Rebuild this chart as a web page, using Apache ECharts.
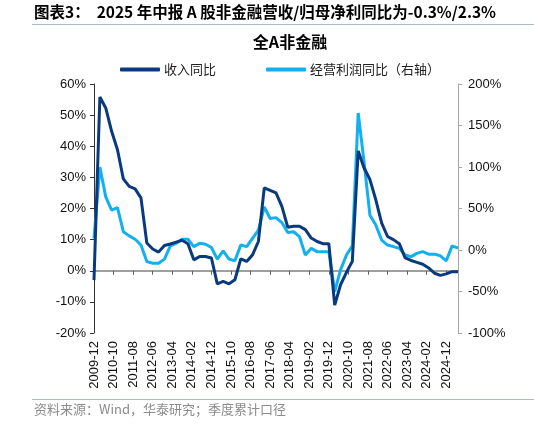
<!DOCTYPE html>
<html>
<head>
<meta charset="utf-8">
<script src="https://cdn.jsdelivr.net/npm/echarts@6/dist/echarts.min.js"></script>
<style>
	html, body { margin: 0; padding: 0; background: #fff; }
	#chart { width: 534px; height: 424px; }
</style>
</head>
<body>
<div id="chart"></div>
<script>
	// monthly axis 2009-12 .. 2025-06, data is quarterly (cumulative yoy, %)
	var months = [];
	for (var y = 2009, m = 12; y * 100 + m <= 202506;) {
		months.push(y + '-' + (m < 10 ? '0' + m : m));
		m++;
		if (m > 12) { m = 1; y++; }
	}
	var quarters = months.filter(function(d, i) { return i % 3 === 0; });

	var revenueYoy = [-3, 55.8, 52.3, 44.8, 38.9, 29.5, 27.1, 26.3, 23.4, 8.9, 7.0, 6.0, 8.1, 8.6, 9.2, 9.8, 8.7, 3.5, 4.6, 4.6, 4.1,
		-4.2, -3.4, -4.2, -2.9, 3.8, 3.0, 5.1, 9.4, 26.6, 25.8, 25.0, 20.7, 14.0, 14.3, 14.3, 13.2, 10.5, 9.4, 8.7, 8.7, -11,
		-4.5, -0.5, 3.0, 38.5, 33.0, 29.3, 22.8, 15.3, 11.0, 10.0, 8.7, 4.1, 3.3, 2.7, 2.1, 0.9, -0.8, -1.5, -1.0, -0.3, -0.3];
	var profitYoy = [14, 100, 64, 48, 51, 22, 17, 13, 6, -14, -16, -16, -11, 5, 8, 13, 13, 4, 8, 7, 3,
		-11, -1, -11, -13, 6, 4, 14, 24, 52, 38, 39, 33, 21, 22, 16, -6, 2, -2, -2, -2, -50,
		-24, -6, 5, 165, 106, 42, 30, 12, 6, 4, 2, -6, -8, -4, -2, -5, -5, -7, -13, 5, 2.3];

	var seriesNames = ['收入同比', '经营利润同比（右轴）'];
	var font = '"Noto Sans CJK SC", "Liberation Sans", sans-serif';
	var numFont = '"Liberation Sans", Arial, sans-serif';

	function pairs(vals) {
		return quarters.map(function(q, i) { return [q, vals[i]]; });
	}

	var myChart = echarts.init(document.getElementById('chart'));
	var option = {
		animation: false,
		grid: {
			left: 94,
			right: 76,
			top: 84,
			bottom: 91
		},
		legend: {
			data: seriesNames,
			left: 115,
			top: 58,
			icon: 'roundRect',
			itemWidth: 40,
			itemHeight: 4,
			itemGap: 50,
			textStyle: {
				fontFamily: font,
				fontSize: 13,
				color: '#222',
				padding: [0, 0, 0, -1]
			}
		},
		graphic: [{
			type: 'text',
			left: 34,
			top: 4,
			style: {
				text: '图表3：  2025 年中报 A 股非金融营收/归母净利同比为-0.3%/2.3%',
				font: 'bold 15.5px ' + font,
				fill: '#000'
			}
		}, {
			type: 'line',
			shape: { x1: 32, y1: 24.5, x2: 534, y2: 24.5 },
			style: { stroke: '#a9bbd0', lineWidth: 1 }
		}, {
			type: 'text',
			x: 290,
			y: 42,
			style: {
				text: '全A非金融',
				font: 'bold 16px ' + font,
				fill: '#000',
				align: 'center',
				verticalAlign: 'middle'
			}
		}, {
			type: 'line',
			shape: { x1: 32, y1: 399.5, x2: 534, y2: 399.5 },
			style: { stroke: '#a9bbd0', lineWidth: 1 }
		}, {
			type: 'text',
			left: 34,
			top: 403,
			style: {
				text: '资料来源：Wind，华泰研究；季度累计口径',
				font: '13px ' + font,
				fill: '#8c8c8c'
			}
		}],
		xAxis: [{
			type: 'category',
			data: months,
			boundaryGap: false,
			position: 'bottom',
			axisLine: { show: false, onZero: false },
			axisTick: { show: false },
			axisLabel: {
				interval: 9,
				rotate: 90,
				margin: 8,
				fontFamily: numFont,
				fontSize: 13,
				color: '#111'
			},
			splitLine: { show: false }
		}, {
			type: 'category',
			data: months,
			boundaryGap: false,
			position: 'bottom',
			axisLine: {
				onZero: true,
				onZeroAxisIndex: 0,
				lineStyle: { color: '#808080', width: 1.5 }
			},
			axisTick: {
				interval: 9,
				length: 4,
				lineStyle: { color: '#606060' }
			},
			axisLabel: { show: false },
			splitLine: { show: false }
		}],
		yAxis: [{
			type: 'value',
			min: -20,
			max: 60,
			interval: 10,
			axisLine: { show: true, lineStyle: { color: '#333' } },
			axisTick: { show: true, length: 4, lineStyle: { color: '#333' } },
			axisLabel: {
				formatter: '{value}%',
				margin: 8,
				fontFamily: numFont,
				fontSize: 13,
				color: '#111'
			},
			splitLine: { show: false }
		}, {
			type: 'value',
			min: -100,
			max: 200,
			interval: 50,
			axisLine: { show: true, lineStyle: { color: '#a6a6a6' } },
			axisTick: { show: true, length: 4, lineStyle: { color: '#a6a6a6' } },
			axisLabel: {
				formatter: '{value}%',
				margin: 10,
				fontFamily: numFont,
				fontSize: 13,
				color: '#111'
			},
			splitLine: { show: false }
		}],
		series: [{
			name: seriesNames[0],
			type: 'line',
			xAxisIndex: 0,
			yAxisIndex: 0,
			showSymbol: false,
			symbol: 'none',
			z: 3,
			lineStyle: { color: '#0a3a7e', width: 3 },
			itemStyle: { color: '#0a3a7e' },
			data: pairs(revenueYoy)
		}, {
			name: seriesNames[1],
			type: 'line',
			xAxisIndex: 0,
			yAxisIndex: 1,
			showSymbol: false,
			symbol: 'none',
			z: 2,
			lineStyle: { color: '#12b0ee', width: 3 },
			itemStyle: { color: '#12b0ee' },
			data: pairs(profitYoy)
		}]
	};
	myChart.setOption(option);
</script>
</body>
</html>
